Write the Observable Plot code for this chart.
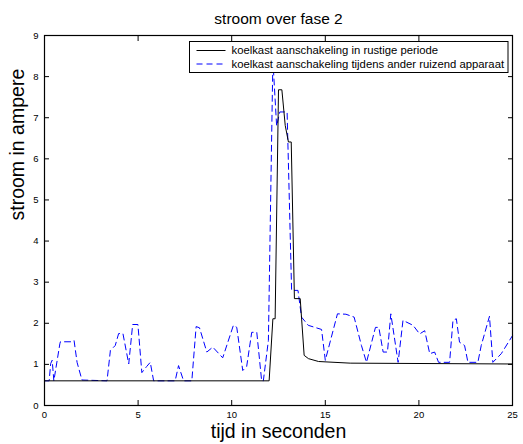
<!DOCTYPE html>
<html><head><meta charset="utf-8">
<script src="https://cdn.jsdelivr.net/npm/d3@7"></script>
<script src="https://cdn.jsdelivr.net/npm/@observablehq/plot@0.6"></script>
<style>body{margin:0;background:#fff} svg{display:block}</style>
</head><body><div id="chart"></div>
<script>
const title = "stroom over fase 2";
const xLabel = "tijd in seconden";
const yLabel = "stroom in ampere";
const seriesNames = ["koelkast aanschakeling in rustige periode", "koelkast aanschakeling tijdens ander ruizend apparaat"];
const xTicks = [0, 5, 10, 15, 20, 25];
const yTicks = [0, 1, 2, 3, 4, 5, 6, 7, 8, 9];

const quietTime = [0, 12.0, 12.2, 12.32, 12.5, 12.68, 12.86, 13.03, 13.18, 13.35, 13.66, 13.87, 14.1, 14.64, 16.33, 25];
const quietCurrent = [0.6, 0.6, 2.11, 2.11, 7.68, 7.68, 6.81, 6.41, 6.41, 2.6, 2.6, 1.22, 1.14, 1.07, 1.03, 1.01];

const noisyTime = [0, 0.25, 0.33, 0.41, 0.5, 0.82, 0.85, 1.4, 1.58, 1.74, 2.0, 3.34, 3.52, 3.78, 3.96, 4.19, 4.5, 4.71, 4.99, 5.2, 5.46, 5.65, 5.83, 6.98, 7.16, 7.43, 7.87, 8.1, 8.28, 8.67, 8.99, 9.52, 10.09, 10.27, 10.59, 10.8, 11.07, 11.34, 11.6, 11.69, 11.96, 12.2, 12.4, 12.57, 12.96, 13.2, 13.54, 13.73, 14.09, 14.8, 15.0, 15.65, 16.1, 16.54, 16.93, 17.2, 17.68, 17.86, 18.09, 18.32, 18.5, 18.89, 19.15, 19.69, 20.04, 20.31, 20.58, 20.84, 21.05, 21.64, 21.82, 22.0, 22.17, 22.44, 22.62, 23.15, 23.33, 23.77, 23.95, 24.4, 25];
const noisyCurrent = [0.6, 0.6, 1.02, 1.1, 0.6, 1.5, 1.55, 1.55, 1.58, 1.05, 0.62, 0.6, 1.34, 1.46, 1.75, 1.75, 1.01, 1.97, 1.97, 0.8, 0.95, 1.05, 0.6, 0.6, 0.97, 0.6, 0.6, 1.92, 1.89, 1.3, 1.42, 1.16, 1.95, 1.9, 0.85, 0.95, 1.78, 1.78, 0.6, 0.6, 1.58, 8.4, 6.8, 7.14, 7.14, 2.8, 2.8, 2.15, 1.95, 1.85, 1.1, 2.23, 2.22, 2.15, 1.46, 1.05, 1.9, 1.9, 1.3, 1.3, 2.23, 1.05, 2.07, 1.95, 1.74, 1.82, 1.26, 1.3, 1.05, 1.05, 2.07, 2.11, 1.54, 1.46, 1.05, 1.05, 1.46, 2.17, 1.05, 1.26, 1.7];

const quiet = quietTime.map((t, i) => ({t, a: quietCurrent[i]}));
const noisy = noisyTime.map((t, i) => ({t, a: noisyCurrent[i]}));

const font = "'Liberation Sans', Arial, Helvetica, sans-serif";
const W = 523, H = 444, mL = 44, mR = 11, mT = 35, mB = 39;

const plot = Plot.plot({
  width: W, height: H,
  marginLeft: mL, marginRight: mR, marginTop: mT, marginBottom: mB,
  style: {fontFamily: font, background: "#fff", color: "#000", overflow: "visible"},
  x: {domain: [0, 25]},
  y: {domain: [0, 9]},
  marks: [
    Plot.lineY(noisy, {x: "t", y: "a", stroke: "#0000ff", strokeWidth: 1, strokeDasharray: "6,4"}),
    Plot.lineY(quiet, {x: "t", y: "a", stroke: "#000", strokeWidth: 1}),
    Plot.axisX(xTicks, {anchor: "bottom", tickSize: -5, tickPadding: 11, fontSize: 9.5, label: null, stroke: "#000", fill: "#000"}),
    Plot.axisX(xTicks, {anchor: "top", tickSize: -5, tickFormat: () => "", label: null, stroke: "#000"}),
    Plot.axisY(yTicks, {anchor: "left", tickSize: -5, tickPadding: 11, fontSize: 9.5, label: null, stroke: "#000", fill: "#000"}),
    Plot.axisY(yTicks, {anchor: "right", tickSize: -5, tickFormat: () => "", label: null, stroke: "#000"}),
    Plot.frame({stroke: "#000", strokeWidth: 1.2}),
    Plot.text([title], {frameAnchor: "top", dy: -12, lineAnchor: "bottom", fontSize: 15.5, fill: "#000"}),
    Plot.text([xLabel], {frameAnchor: "bottom", dy: 32, lineAnchor: "bottom", fontSize: 19.5, fill: "#000"}),
    Plot.text([yLabel], {frameAnchor: "left", dx: -21, rotate: -90, lineAnchor: "bottom", fontSize: 19.5, fill: "#000"})
  ]
});

// legend (MATLAB-style box in the upper right of the axes)
const svg = d3.select(plot);
const lx = 189.5, ly = 41.5, lw = W - mR - 4 - lx, lh = 31;
const lg = svg.append("g").attr("font-family", font).attr("font-size", 11.3).attr("text-anchor", "start");
lg.append("rect").attr("x", lx).attr("y", ly).attr("width", lw).attr("height", lh)
  .attr("fill", "#fff").attr("stroke", "#000").attr("stroke-width", 1);
const styles = [{stroke: "#000", dash: null}, {stroke: "#0000ff", dash: "6,4"}];
seriesNames.forEach((name, i) => {
  const cy = ly + 9 + i * 13.5;
  const ln = lg.append("line").attr("x1", lx + 7).attr("x2", lx + 36).attr("y1", cy).attr("y2", cy)
    .attr("stroke", styles[i].stroke).attr("stroke-width", 1);
  if (styles[i].dash) ln.attr("stroke-dasharray", styles[i].dash);
  lg.append("text").attr("x", lx + 42).attr("y", cy).attr("dy", "0.35em").attr("fill", "#000")
    .attr("text-anchor", "start").text(name);
});

document.getElementById("chart").appendChild(plot);
</script>
</body></html>
